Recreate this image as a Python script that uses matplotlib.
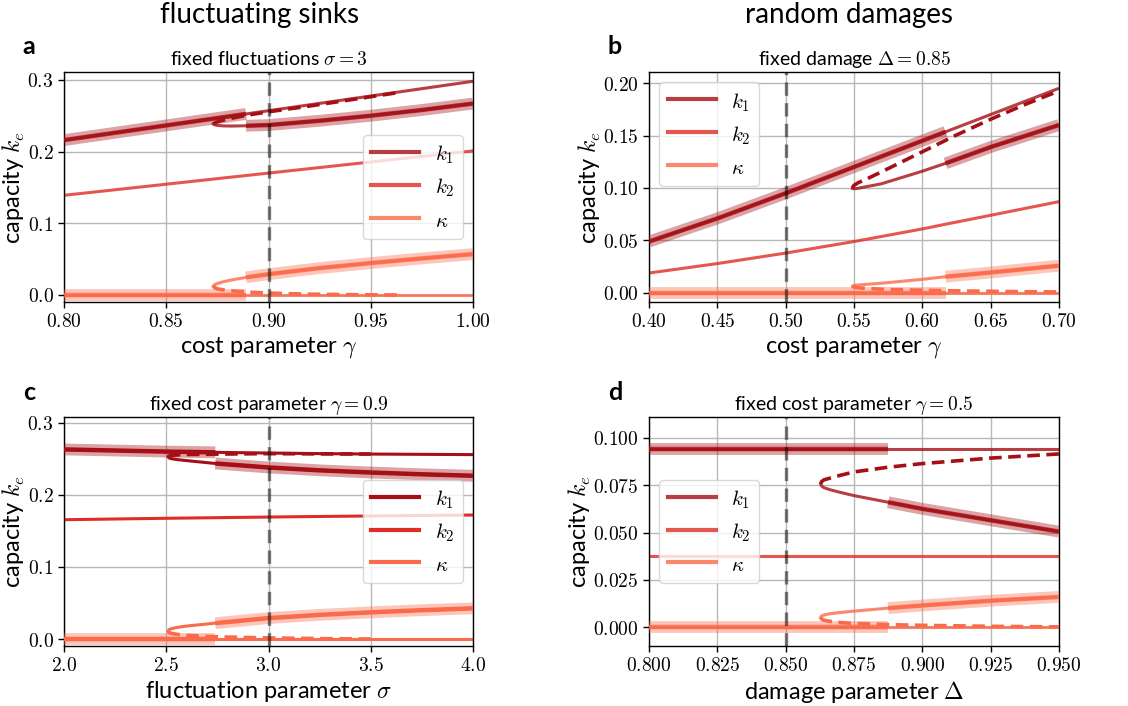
import numpy as np
import matplotlib
matplotlib.use("Agg")
import matplotlib.pyplot as plt
from matplotlib.lines import Line2D

plt.rcParams['font.family'] = ['Lato', 'DejaVu Sans']
plt.rcParams['mathtext.fontset'] = 'cm'

# ---------------- data ----------------
# Panel a: fluctuating sinks, fixed sigma = 3, x = cost parameter gamma
a_x_up = [0.80, 0.85, 0.889, 0.90, 0.95, 1.00]
a_k1_up = [0.216, 0.2365, 0.2525, 0.257, 0.2775, 0.298]
a_k2 = [0.139, 0.1545, 0.1666, 0.170, 0.1855, 0.201]
a_kap_up = [0.0, 0.0, 0.0, 0.0, 0.0, 0.0]
a_x_lo = [0.873, 0.8735, 0.875, 0.878, 0.882, 0.889, 0.90, 0.925, 0.95, 0.975, 1.00]
a_k1_lo = [0.2385, 0.2375, 0.2365, 0.2358, 0.2356, 0.2360, 0.2370, 0.2430, 0.2500, 0.2580, 0.2670]
a_kap_lo = [0.0125, 0.0142, 0.0160, 0.0185, 0.0210, 0.0245, 0.0290, 0.0375, 0.0445, 0.0510, 0.0570]
a_x_un = [0.873, 0.8735, 0.875, 0.88, 0.89, 0.90, 0.91, 0.92, 0.935, 0.95, 0.965]
a_k1_un = [0.2385, 0.2395, 0.2415, 0.2455, 0.2510, 0.2555, 0.2595, 0.2635, 0.2700, 0.2765, 0.2830]
a_kap_un = [0.0125, 0.0105, 0.0085, 0.0062, 0.0040, 0.0027, 0.0018, 0.0012, 0.0006, 0.0002, 0.0]
a_switch = 0.889
a_mark = 0.90

# Panel b: random damages, fixed Delta = 0.85, x = cost parameter gamma
b_x_up = [0.40, 0.45, 0.50, 0.55, 0.60, 0.617, 0.65, 0.70]
b_k1_up = [0.049, 0.071, 0.095, 0.120, 0.145, 0.1535, 0.170, 0.195]
b_k2 = [0.019, 0.028, 0.038, 0.049, 0.061, 0.0655, 0.074, 0.087]
b_kap_up = [0.0, 0.0, 0.0, 0.0, 0.0, 0.0, 0.0, 0.0]
b_x_lo = [0.549, 0.5495, 0.552, 0.56, 0.57, 0.58, 0.60, 0.617, 0.65, 0.70]
b_k1_lo = [0.0995, 0.0993, 0.0995, 0.1015, 0.1040, 0.1080, 0.1160, 0.1235, 0.1390, 0.1600]
b_kap_lo = [0.0065, 0.0070, 0.0075, 0.0083, 0.0093, 0.0105, 0.0130, 0.0155, 0.0195, 0.0260]
b_x_un = [0.549, 0.5492, 0.550, 0.553, 0.56, 0.575, 0.60, 0.625, 0.65, 0.675, 0.70]
b_k1_un = [0.0995, 0.1010, 0.1025, 0.1050, 0.1090, 0.1185, 0.1345, 0.1505, 0.1655, 0.1795, 0.1925]
b_kap_un = [0.0065, 0.0061, 0.0057, 0.0050, 0.0042, 0.0033, 0.0026, 0.0020, 0.0016, 0.0012, 0.0010]
b_switch = 0.617
b_mark = 0.50

# Panel c: fluctuating sinks, fixed gamma = 0.9, x = fluctuation parameter sigma
c_x_up = [2.0, 2.25, 2.5, 2.74, 3.0, 3.25, 3.5, 3.75, 4.0]
c_k1_up = [0.263, 0.2615, 0.260, 0.259, 0.258, 0.2572, 0.2566, 0.2562, 0.2558]
c_k2 = [0.1655, 0.1665, 0.1675, 0.1683, 0.1692, 0.170, 0.1707, 0.1714, 0.172]
c_kap_up = [0.0, 0.0, 0.0, 0.0, 0.0, 0.0, 0.0, 0.0, 0.0]
c_x_lo = [2.51, 2.512, 2.52, 2.55, 2.6, 2.74, 3.0, 3.25, 3.5, 3.75, 4.0]
c_k1_lo = [0.2525, 0.2515, 0.2505, 0.2490, 0.2475, 0.2435, 0.2380, 0.2340, 0.2310, 0.2285, 0.2265]
c_kap_lo = [0.0110, 0.0125, 0.0140, 0.0160, 0.0180, 0.0220, 0.0290, 0.0335, 0.0370, 0.0400, 0.0425]
c_x_un = [2.51, 2.512, 2.52, 2.55, 2.6, 2.75, 3.0, 3.25, 3.5]
c_k1_un = [0.2525, 0.2535, 0.2545, 0.2553, 0.2560, 0.2565, 0.2572, 0.2568, 0.2566]
c_kap_un = [0.0110, 0.0095, 0.0082, 0.0065, 0.0050, 0.0030, 0.0015, 0.0006, 0.0]
c_switch = 2.74
c_mark = 3.0

# Panel d: random damages, fixed gamma = 0.5, x = damage parameter Delta
d_x_up = [0.80, 0.8875, 0.95]
d_k1_up = [0.094, 0.094, 0.094]
d_k2 = [0.0375, 0.0375, 0.0375]
d_kap_up = [0.0, 0.0, 0.0]
d_x_lo = [0.8628, 0.8632, 0.864, 0.866, 0.870, 0.875, 0.8875, 0.90, 0.925, 0.95]
d_k1_lo = [0.0757, 0.0745, 0.0737, 0.0727, 0.0712, 0.0695, 0.0660, 0.0625, 0.0565, 0.0505]
d_kap_lo = [0.0052, 0.0060, 0.0065, 0.0071, 0.0078, 0.0085, 0.0101, 0.0115, 0.0140, 0.0160]
d_x_un = [0.8628, 0.8632, 0.864, 0.868, 0.875, 0.8875, 0.90, 0.925, 0.95]
d_k1_un = [0.0757, 0.0770, 0.0778, 0.0795, 0.0820, 0.0845, 0.0864, 0.0893, 0.0915]
d_kap_un = [0.0052, 0.0043, 0.0037, 0.0027, 0.0020, 0.0014, 0.0010, 0.0005, 0.0002]
d_switch = 0.8875
d_mark = 0.85

# ticks / labels
a_xticks = [0.80, 0.85, 0.90, 0.95, 1.00]
a_xlabels = ['0.80', '0.85', '0.90', '0.95', '1.00']
a_yticks = [0.0, 0.1, 0.2, 0.3]
a_ylabels = ['0.0', '0.1', '0.2', '0.3']
b_xticks = [0.40, 0.45, 0.50, 0.55, 0.60, 0.65, 0.70]
b_xlabels = ['0.40', '0.45', '0.50', '0.55', '0.60', '0.65', '0.70']
b_yticks = [0.00, 0.05, 0.10, 0.15, 0.20]
b_ylabels = ['0.00', '0.05', '0.10', '0.15', '0.20']
c_xticks = [2.0, 2.5, 3.0, 3.5, 4.0]
c_xlabels = ['2.0', '2.5', '3.0', '3.5', '4.0']
c_yticks = [0.0, 0.1, 0.2, 0.3]
c_ylabels = ['0.0', '0.1', '0.2', '0.3']
d_xticks = [0.800, 0.825, 0.850, 0.875, 0.900, 0.925, 0.950]
d_xlabels = ['0.800', '0.825', '0.850', '0.875', '0.900', '0.925', '0.950']
d_yticks = [0.000, 0.025, 0.050, 0.075, 0.100]
d_ylabels = ['0.000', '0.025', '0.050', '0.075', '0.100']

series_labels = ['$k_1$', '$k_2$', '$\\kappa$']

# ---------------- styles ----------------
C_K1 = '#a50f15'
C_K2 = '#de2d26'
C_KAP = '#fb6a4a'

W, H = 1128, 706
fig = plt.figure(figsize=(W / 100, H / 100), dpi=100)


def rect(l, t, r, b):
    return [l / W, 1 - b / H, (r - l) / W, (b - t) / H]


def panel(ax, xu, k1u, k2, kapu, xl, k1l, kapl, xn, k1n, kapn, sw, mark,
          line_alpha, xlim, ylim, xt, xtl, yt, ytl, title, xlabel, legend_loc):
    xu = np.array(xu); xl = np.array(xl); xn = np.array(xn)
    k1u = np.array(k1u); kapu = np.array(kapu)
    k1l = np.array(k1l); kapl = np.array(kapl)
    ax.grid(True, color='#b8b8b8', lw=1.0, zorder=0)
    ax.set_axisbelow(True)
    # thin branch lines
    for c, y in ((C_K1, k1u), (C_KAP, kapu)):
        ax.plot(xu, y, color=c, lw=2.2, alpha=line_alpha, zorder=2, solid_capstyle='butt')
    ax.plot(xu, k2, color=C_K2, lw=2.2, alpha=line_alpha, zorder=2)
    for c, y in ((C_K1, k1l), (C_KAP, kapl)):
        ax.plot(xl, y, color=c, lw=2.2, alpha=line_alpha, zorder=2)
    # realized (shaded) path
    mu = xu <= sw
    ml = xl >= sw
    for c, y in ((C_K1, k1u), (C_KAP, kapu)):
        ax.plot(xu[mu], y[mu], color=c, lw=3.2, alpha=line_alpha, zorder=3, solid_capstyle='butt')
        ax.plot(xu[mu], y[mu], color=c, lw=8.5, alpha=0.38, zorder=3, solid_capstyle='butt')
    for c, y in ((C_K1, k1l), (C_KAP, kapl)):
        ax.plot(xl[ml], y[ml], color=c, lw=3.2, alpha=line_alpha, zorder=3, solid_capstyle='butt')
        ax.plot(xl[ml], y[ml], color=c, lw=8.5, alpha=0.38, zorder=3, solid_capstyle='butt')
    # unstable branch
    ax.plot(xn, k1n, color=C_K1, lw=2.6, ls=(0, (3.5, 1.8)), zorder=4)
    ax.plot(xn, kapn, color=C_KAP, lw=2.6, ls=(0, (3.5, 1.8)), zorder=4)
    # marker line
    ax.axvline(mark, color='black', alpha=0.5, lw=2.4, ls=(0, (4, 2.2)), zorder=6)
    ax.set_xlim(*xlim)
    ax.set_ylim(*ylim)
    ax.set_xticks(xt)
    ax.set_xticklabels(['$' + s + '$' for s in xtl])
    ax.set_yticks(yt)
    ax.set_yticklabels(['$' + s + '$' for s in ytl])
    ax.tick_params(labelsize=14, length=4, width=1)
    ax.set_title(title, fontsize=14, pad=5)
    ax.set_xlabel(xlabel, fontsize=17, labelpad=3)
    ax.set_ylabel('capacity $k_e$', fontsize=17, labelpad=0)
    handles = [Line2D([], [], color=c, lw=3, alpha=line_alpha) for c in (C_K1, C_K2, C_KAP)]
    leg = ax.legend(handles, series_labels, loc=legend_loc, fontsize=15, handlelength=2.3,
                    handleheight=1.15, labelspacing=0.48, handletextpad=0.75, borderpad=0.4,
                    framealpha=0.8, edgecolor='#d0d0d0', borderaxespad=0.5)
    leg.set_zorder(10)
    for s in ax.spines.values():
        s.set_linewidth(1.0)


axa = fig.add_axes(rect(64, 72, 473, 302))
panel(axa, a_x_up, a_k1_up, a_k2, a_kap_up, a_x_lo, a_k1_lo, a_kap_lo, a_x_un, a_k1_un, a_kap_un,
      a_switch, a_mark, 0.8, (0.80, 1.00), (-0.0098, 0.311), a_xticks, a_xlabels, a_yticks, a_ylabels,
      'fixed fluctuations $\\sigma = 3$', 'cost parameter $\\gamma$', 'center right')

axb = fig.add_axes(rect(649, 72, 1059, 302))
panel(axb, b_x_up, b_k1_up, b_k2, b_kap_up, b_x_lo, b_k1_lo, b_kap_lo, b_x_un, b_k1_un, b_kap_un,
      b_switch, b_mark, 0.8, (0.40, 0.70), (-0.0086, 0.2105), b_xticks, b_xlabels, b_yticks, b_ylabels,
      'fixed damage $\\Delta = 0.85$', 'cost parameter $\\gamma$', 'upper left')

axc = fig.add_axes(rect(64, 417, 473, 646))
panel(axc, c_x_up, c_k1_up, c_k2, c_kap_up, c_x_lo, c_k1_lo, c_kap_lo, c_x_un, c_k1_un, c_kap_un,
      c_switch, c_mark, 1.0, (2.0, 4.0), (-0.0097, 0.308), c_xticks, c_xlabels, c_yticks, c_ylabels,
      'fixed cost parameter $\\gamma = 0.9$', 'fluctuation parameter $\\sigma$', 'center right')

axd = fig.add_axes(rect(649, 417, 1059, 646))
panel(axd, d_x_up, d_k1_up, d_k2, d_kap_up, d_x_lo, d_k1_lo, d_kap_lo, d_x_un, d_k1_un, d_kap_un,
      d_switch, d_mark, 0.8, (0.80, 0.95), (-0.0099, 0.111), d_xticks, d_xlabels, d_yticks, d_ylabels,
      'fixed cost parameter $\\gamma = 0.5$', 'damage parameter $\\Delta$', 'center left')

fig.text(260 / W, 1 - 15 / H, 'fluctuating sinks', ha='center', va='center', fontsize=20)
fig.text(849 / W, 1 - 15 / H, 'random damages', ha='center', va='center', fontsize=20)
for lab, (px, py) in zip(['a', 'b', 'c', 'd'], [(29, 47), (615, 47), (29, 392), (615, 392)]):
    fig.text(px / W, 1 - py / H, lab, ha='center', va='center', fontsize=18, fontweight='bold')

fig.savefig('out.png', dpi=100)
